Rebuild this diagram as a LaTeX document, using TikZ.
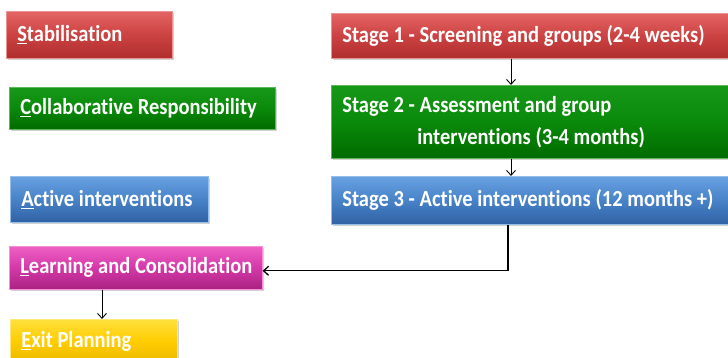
\documentclass[tikz,border=0pt]{standalone}
\usepackage{fontspec}
\setmainfont{Carlito}[Ligatures=NoCommon]
\usetikzlibrary{arrows.meta,shadows}
\definecolor{redT}{RGB}{228,100,100}
\definecolor{redM}{RGB}{204,66,66}
\definecolor{redB}{RGB}{176,46,46}
\definecolor{grnT}{RGB}{24,152,24}
\definecolor{grnM}{RGB}{10,138,10}
\definecolor{grnB}{RGB}{0,106,0}
\definecolor{bluT}{RGB}{104,162,226}
\definecolor{bluM}{RGB}{72,130,200}
\definecolor{bluB}{RGB}{48,98,164}
\definecolor{magT}{RGB}{238,96,196}
\definecolor{magM}{RGB}{212,56,168}
\definecolor{magB}{RGB}{170,34,130}
\definecolor{yelT}{RGB}{255,224,60}
\definecolor{yelM}{RGB}{255,204,0}
\definecolor{yelB}{RGB}{234,184,0}
\newcommand{\tall}[1]{\scalebox{1}[1.12]{\spaceskip=0.23em\relax #1}}
\begin{document}
\begin{tikzpicture}[x=1pt,y=-1pt,
  box/.style n args={4}{rectangle, anchor=north west, inner xsep=11pt, inner ysep=0pt,
    text=white, font=\fontsize{20.5}{30}\bfseries\selectfont, align=left,
    text width=#3pt-22pt, minimum height=#4pt,
    top color=#1T, bottom color=#1B, middle color=#1M, draw=#1T!70!white, line width=0.6pt,
    drop shadow={shadow xshift=1.5pt, shadow yshift=-1.5pt, opacity=0.35}},
  arr/.style={draw=black, line width=0.9pt, -{Straight Barb[length=5pt,width=9pt]}}]
\useasboundingbox (0,0) rectangle (728,358);
\fill[white] (0,0) rectangle (728,358);
% left column
\node[box={red}{}{166}{47}] (stab) at (6,11) {\tall{\underline{S}tabilisation}};
\node[box={grn}{}{266}{42}] (collab) at (9,87) {\tall{\underline{C}ollaborative Responsibility}};
\node[box={blu}{}{198}{46}] (active) at (10,176) {\tall{\underline{A}ctive interventions}};
\node[box={mag}{}{253}{43}] (learn) at (9,246) {\tall{\underline{L}earning and Consolidation}};
\node[box={yel}{}{167}{45}] (exit) at (10,319) {\tall{\underline{E}xit Planning}};
% stages
\node[box={red}{}{420}{45}] (s1) at (331,13) {\tall{Stage 1 - Screening and groups (2-4 weeks)}};
\node[box={grn}{}{420}{73}, font=\fontsize{20.5}{32}\bfseries\selectfont] (s2) at (331,85) {\tall{Stage 2 - Assessment and group}\\\hspace*{75pt}\tall{interventions (3-4 months)}};
\node[box={blu}{}{420}{48}] (s3) at (331,176) {\tall{Stage 3 - Active interventions (12 months +)}};
% connectors
\draw[arr] ([xshift=180pt]s1.south west) -- ([xshift=180pt]s2.north west);
\draw[arr] ([xshift=180pt]s2.south west) -- ([xshift=180pt]s3.north west);
\draw[arr, line width=1.3pt] ([xshift=177pt]s3.south west) |- ([yshift=-3pt]learn.east);
\draw[arr] ([xshift=93pt]learn.south west) -- ([xshift=93pt]learn.south west |- exit.north);
\end{tikzpicture}
\end{document}
